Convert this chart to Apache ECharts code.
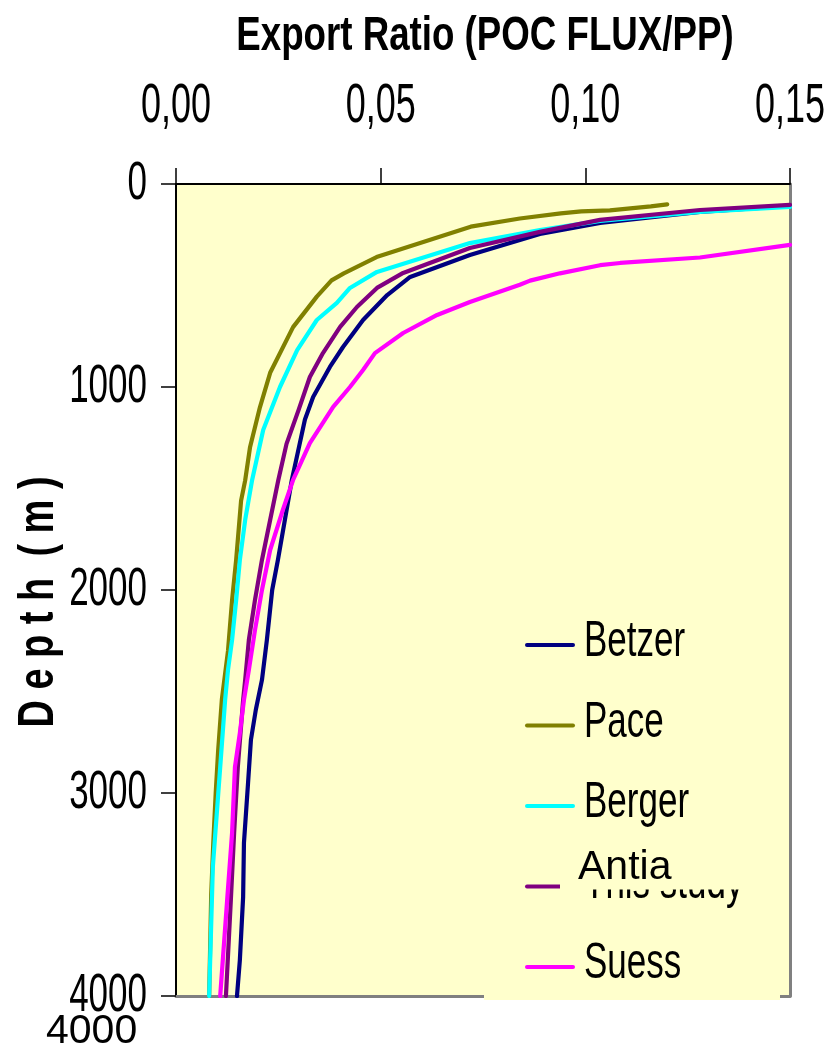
<!DOCTYPE html>
<html>
<head>
<meta charset="utf-8">
<script src="https://cdn.jsdelivr.net/npm/echarts@6/dist/echarts.min.js"></script>
<style>
  html, body { margin: 0; padding: 0; background: #ffffff; }
  #chart { width: 832px; height: 1048px; }
</style>
</head>
<body>
<div id="chart"></div>
<script>
// Axis ticks
const xTicks = [0, 0.05, 0.10, 0.15];
const yTicks = [0, 1000, 2000, 3000, 4000];

// Export ratio profiles: [POC flux / PP, depth (m)]
const betzer = [
  [0.150, 108], [0.128, 138], [0.1036, 192], [0.0889, 246], [0.0718, 350],
  [0.0572, 458], [0.0516, 547], [0.0457, 670], [0.0408, 803], [0.0376, 901],
  [0.0335, 1049], [0.0315, 1160], [0.0300, 1300], [0.0283, 1458], [0.0266, 1655],
  [0.0249, 1852], [0.0235, 2000], [0.0222, 2246], [0.0210, 2443], [0.0195, 2590],
  [0.0183, 2739], [0.0176, 2951], [0.0166, 3246], [0.0164, 3512], [0.0156, 3823],
  [0.0149, 4000]
];
const pace = [
  [0.120, 100], [0.116, 110], [0.111, 120], [0.106, 130], [0.099, 135],
  [0.094, 145], [0.084, 170], [0.072, 210], [0.049, 360], [0.041, 440],
  [0.038, 475], [0.0344, 555], [0.0286, 705], [0.0230, 930], [0.0205, 1100],
  [0.0181, 1295], [0.0169, 1460], [0.0159, 1560], [0.0147, 1850], [0.0137, 2050],
  [0.0127, 2300], [0.0112, 2540], [0.0103, 2790], [0.0097, 3000], [0.0091, 3250],
  [0.0086, 3500], [0.0081, 4000]
];
const berger = [
  [0.150, 113], [0.128, 138], [0.1036, 182], [0.0889, 227], [0.0718, 291],
  [0.0491, 433], [0.0425, 512], [0.0393, 586], [0.0344, 670], [0.0296, 818],
  [0.0254, 1000], [0.0213, 1212], [0.0186, 1458], [0.0169, 1655], [0.0156, 1852],
  [0.0147, 2049], [0.0137, 2246], [0.0127, 2394], [0.0120, 2542], [0.0108, 2872],
  [0.0090, 3364], [0.0081, 4000]
];
const antia = [
  [0.150, 103], [0.128, 128], [0.1036, 177], [0.0889, 236], [0.0718, 315],
  [0.0555, 438], [0.0491, 512], [0.0442, 606], [0.0401, 704], [0.0359, 833],
  [0.0327, 951], [0.0300, 1110], [0.0270, 1280], [0.0250, 1458], [0.0230, 1655],
  [0.0210, 1852], [0.0193, 2049], [0.0178, 2246], [0.0169, 2443], [0.0164, 2542],
  [0.0151, 2872], [0.0142, 3197], [0.0134, 3527], [0.0122, 4000]
];
const suess = [
  [0.150, 300], [0.128, 362], [0.1085, 389], [0.1036, 400], [0.0938, 440],
  [0.0865, 476], [0.0840, 496], [0.0718, 581], [0.0638, 645], [0.0555, 734],
  [0.0486, 833], [0.0457, 916], [0.0425, 1000], [0.0384, 1098], [0.0327, 1276],
  [0.0286, 1458], [0.0261, 1606], [0.0230, 1803], [0.0210, 2000], [0.0193, 2197],
  [0.0178, 2394], [0.0166, 2542], [0.0156, 2704], [0.0144, 2872], [0.0137, 3197],
  [0.0125, 3527], [0.0108, 4000]
];

const seriesNames = ['Betzer', 'Pace', 'Berger', 'Antia', 'Suess'];
const seriesData = [betzer, pace, berger, antia, suess];
const seriesColors = ['#000080', '#808000', '#00FFFF', '#800080', '#FF00FF'];

const titleText = 'Export Ratio (POC FLUX/PP)';
const depthText = 'D e p t h  ( m )';
const hiddenLegendText = 'This study';

const FONT = '"Liberation Sans", Arial, sans-serif';
const PLOT_BG = '#FFFFCC';

const chart = echarts.init(document.getElementById('chart'), null, { renderer: 'canvas' });

const xMin = xTicks[0], xMax = xTicks[xTicks.length - 1];
const yMin = yTicks[0], yMax = yTicks[yTicks.length - 1];
const xStep = xTicks[1] - xTicks[0];
const yStep = yTicks[1] - yTicks[0];

chart.setOption({
  animation: false,
  backgroundColor: '#ffffff',
  grid: {
    left: 176, right: 42, top: 184, bottom: 52,
    show: true, backgroundColor: PLOT_BG, borderWidth: 0
  },
  xAxis: [
    {
      type: 'value', position: 'top', min: xMin, max: xMax, interval: xStep,
      axisLine: { show: true, onZero: false, lineStyle: { color: '#000', width: 2 } },
      axisTick: { show: true, inside: false, length: 16, lineStyle: { color: '#000', width: 1.5 } },
      axisLabel: { show: false },
      splitLine: { show: false }
    },
    {
      type: 'value', position: 'bottom', min: xMin, max: xMax, interval: xStep,
      axisLine: { show: true, onZero: false, lineStyle: { color: '#808080', width: 3 } },
      axisTick: { show: false }, axisLabel: { show: false }, splitLine: { show: false }
    }
  ],
  yAxis: [
    {
      type: 'value', inverse: true, position: 'left', min: yMin, max: yMax, interval: yStep,
      axisLine: { show: true, onZero: false, lineStyle: { color: '#000', width: 2 } },
      axisTick: { show: true, inside: false, length: 15, lineStyle: { color: '#000', width: 1.5 } },
      axisLabel: { show: false },
      splitLine: { show: false }
    },
    {
      type: 'value', inverse: true, position: 'right', min: yMin, max: yMax, interval: yStep,
      axisLine: { show: true, onZero: false, lineStyle: { color: '#808080', width: 3 } },
      axisTick: { show: false }, axisLabel: { show: false }, splitLine: { show: false }
    }
  ],
  series: seriesNames.map((name, i) => ({
    name: name,
    type: 'line',
    xAxisIndex: 0,
    yAxisIndex: 0,
    data: seriesData[i],
    symbol: 'none',
    showSymbol: false,
    clip: true,
    lineStyle: { color: seriesColors[i], width: 4.2, cap: 'round', join: 'round' },
    itemStyle: { color: seriesColors[i] },
    z: 3 + i
  }))
});

// Text helper: tall, narrow lettering made from a scaled text element
function label(text, x, y, opts) {
  const o = opts || {};
  const align = o.align || 'center';
  return {
    type: 'text',
    x: x, y: y,
    scaleX: o.sx || 1,
    scaleY: o.sy || 1,
    rotation: o.rotation || 0,
    z: o.z || 100,
    silent: true,
    style: {
      text: text,
      font: (o.weight || 'normal') + ' ' + o.size + 'px ' + FONT,
      fill: '#000',
      align: align, textAlign: align,
      verticalAlign: 'middle', textVerticalAlign: 'middle'
    }
  };
}

const px = v => chart.convertToPixel({ xAxisIndex: 0 }, v);
const py = v => chart.convertToPixel({ yAxisIndex: 0 }, v);
const fmtRatio = v => v.toFixed(2).replace('.', ',');

const graphics = [];

// Axis title and depth label
graphics.push(label(titleText, (px(xMin) + px(xMax)) / 2 + 2, 37, { size: 36.7, weight: 'bold', sy: 1.3 }));
graphics.push(label(depthText, 39, 602, { size: 50, weight: 'bold', sx: 0.76, rotation: Math.PI / 2 }));

// Tick labels
xTicks.forEach(v => graphics.push(label(fmtRatio(v), px(v), 107, { size: 36, sy: 1.56 })));
yTicks.forEach(v => graphics.push(label(String(v), 147, py(v), { size: 35, sy: 1.55, align: 'right' })));
graphics.push(label(String(yMax), 46, 1032, { size: 41, align: 'left' }));

// Legend panel
const legendX = 527, legendLineEnd = 573, legendTextX = 584, legendTop = 645, legendStep = 80.5;
graphics.push({
  type: 'rect', z: 90, silent: true,
  shape: { x: 484, y: 600, width: 296, height: 400 },
  style: { fill: PLOT_BG }
});
seriesNames.forEach((name, i) => {
  const ly = legendTop + i * legendStep;
  graphics.push({
    type: 'line', z: 100, silent: true,
    shape: { x1: legendX, y1: ly, x2: legendLineEnd, y2: ly },
    style: { stroke: seriesColors[i], lineWidth: 4, lineCap: 'round' }
  });
  if (name === 'Antia') {
    graphics.push(label(hiddenLegendText, legendTextX, ly - 3, { size: 35, sy: 1.45, align: 'left' }));
    graphics.push({
      type: 'rect', z: 101, silent: true,
      shape: { x: 560, y: ly - 44, width: 190, height: 47 },
      style: { fill: PLOT_BG }
    });
    graphics.push(label(name, 578, ly - 19, { size: 41, align: 'left', z: 102 }));
  } else {
    graphics.push(label(name, legendTextX, ly - 3, { size: 35, sy: 1.45, align: 'left' }));
  }
});

chart.setOption({ graphic: graphics });
</script>
</body>
</html>
